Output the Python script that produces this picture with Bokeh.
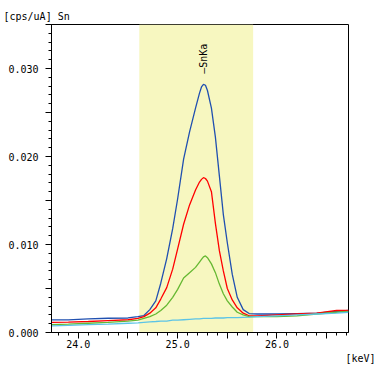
from bokeh.plotting import figure
from bokeh.models import BoxAnnotation, Label, FixedTicker, Range1d, Title
from bokeh.embed import file_html
from bokeh.resources import INLINE
import math

# energy axis [keV]
energy = [23.73, 23.9, 24.1, 24.3, 24.5, 24.6, 24.66, 24.72, 24.78, 24.83, 24.89, 24.95,
          25.0, 25.06, 25.12, 25.18, 25.22, 25.24, 25.26, 25.28, 25.30, 25.34, 25.38, 25.42,
          25.46, 25.50, 25.55, 25.60, 25.66, 25.72, 25.8, 26.0, 26.2, 26.4, 26.6, 26.72]

blue = [0.00144, 0.00144, 0.00155, 0.00162, 0.00165, 0.0018, 0.00193, 0.0026, 0.0036,
        0.0056, 0.0084, 0.0118, 0.0152, 0.0197, 0.0228, 0.0255, 0.0272, 0.0279, 0.0282,
        0.0281, 0.0275, 0.0255, 0.0222, 0.0178, 0.0134, 0.0102, 0.0066, 0.0040, 0.0026,
        0.00215, 0.0021, 0.0021, 0.00215, 0.0022, 0.0024, 0.0025]

red = [0.00115, 0.00118, 0.00125, 0.00136, 0.00145, 0.0016, 0.0018, 0.0022, 0.0028,
       0.0038, 0.0051, 0.0072, 0.0095, 0.0123, 0.0145, 0.0162, 0.0171, 0.0174, 0.0176,
       0.0175, 0.0172, 0.0160, 0.0124, 0.0093, 0.0070, 0.0050, 0.0037, 0.0028, 0.0022,
       0.0019, 0.0019, 0.0020, 0.0021, 0.0022, 0.0025, 0.0025]

green = [0.0009, 0.00095, 0.00105, 0.00114, 0.0013, 0.0014, 0.0016, 0.0018, 0.0021,
         0.0025, 0.0031, 0.0040, 0.0049, 0.0062, 0.0068, 0.0074, 0.0080, 0.0083, 0.0086,
         0.0087, 0.0085, 0.0078, 0.0068, 0.0055, 0.0044, 0.0036, 0.0029, 0.0023, 0.0020,
         0.0018, 0.0018, 0.0018, 0.0019, 0.0021, 0.0023, 0.0024]

cyan = [0.00076, 0.0008, 0.0009, 0.00095, 0.00105, 0.0011, 0.00115, 0.0012, 0.00125,
        0.0013, 0.0013, 0.0014, 0.0014, 0.00145, 0.0015, 0.00155, 0.00155, 0.00158, 0.0016,
        0.0016, 0.0016, 0.0016, 0.00165, 0.00165, 0.00165, 0.0017, 0.0017, 0.0017, 0.00172,
        0.00174, 0.0018, 0.0019, 0.0020, 0.0021, 0.0022, 0.0023]

x_ticks = [24.0, 24.5, 25.0, 25.5, 26.0, 26.5]
x_tick_labels = {24.0: "24.0", 24.5: "", 25.0: "25.0", 25.5: "", 26.0: "26.0", 26.5: ""}
y_ticks = [0.0, 0.005, 0.010, 0.015, 0.020, 0.025, 0.030, 0.035]
y_tick_labels = {0.0: "0.000", 0.005: "", 0.010: "0.010", 0.015: "", 0.020: "0.020",
                 0.025: "", 0.030: "0.030", 0.035: ""}

roi_start, roi_end = 24.614, 25.76
line_name = "\u2014SnKa"
line_energy = 25.262
line_label_y = 0.0294
y_unit_text = "[cps/uA] Sn"
x_unit_text = "[keV]"

FONT = "DejaVu Sans Mono"
FS = "10px"

p = figure(width=376, height=365, output_backend="svg", toolbar_location=None,
           x_range=Range1d(23.73, 26.72), y_range=Range1d(0, 0.035),
           min_border_left=51, min_border_right=28, min_border_top=24, min_border_bottom=33)
p.background_fill_color = "white"
p.border_fill_color = "white"
p.outline_line_color = "black"
p.outline_line_width = 1
p.grid.visible = False

p.add_layout(BoxAnnotation(left=roi_start, right=roi_end, fill_color="#f7f7c0",
                           fill_alpha=1.0, line_color=None, level="underlay"))

for ys, col in [(blue, "#2050b0"), (red, "#ff0000"), (green, "#66b832"), (cyan, "#5cc4e6")]:
    p.line(energy, ys, line_color=col, line_width=1.3)

for ax, ticks, labels, minor in [
        (p.xaxis[0], x_ticks, x_tick_labels, [t / 10 for t in range(237, 268)]),
        (p.yaxis[0], y_ticks, y_tick_labels, [t / 1000 for t in range(0, 36)])]:
    ax.ticker = FixedTicker(ticks=ticks, minor_ticks=minor)
    ax.major_label_overrides = labels
    ax.major_label_text_font = FONT
    ax.major_label_text_font_size = FS
    ax.major_label_text_color = "black"
    ax.axis_line_color = "black"
    ax.major_tick_line_color = "black"
    ax.minor_tick_line_color = "black"
    ax.major_tick_out = 6
    ax.major_tick_in = 0
    ax.minor_tick_out = 3
    ax.minor_tick_in = 0
p.xaxis.major_label_standoff = 1
p.yaxis.major_label_standoff = 7

p.add_layout(Label(x=line_energy, y=line_label_y, text=line_name, angle=math.pi / 2,
                   text_align="left", text_baseline="middle", text_font=FONT,
                   text_font_size=FS, text_color="black"))

top_title = Title(text=y_unit_text, align="left", offset=-48, standoff=6,
                  text_font=FONT, text_font_size=FS, text_font_style="normal",
                  text_color="black")
p.add_layout(top_title, "above")
bottom_title = Title(text=x_unit_text, align="right", offset=-27, standoff=0,
                     text_font=FONT, text_font_size=FS, text_font_style="normal",
                     text_color="black")
p.add_layout(bottom_title, "below")

open("out.html", "w").write(file_html(p, INLINE))
